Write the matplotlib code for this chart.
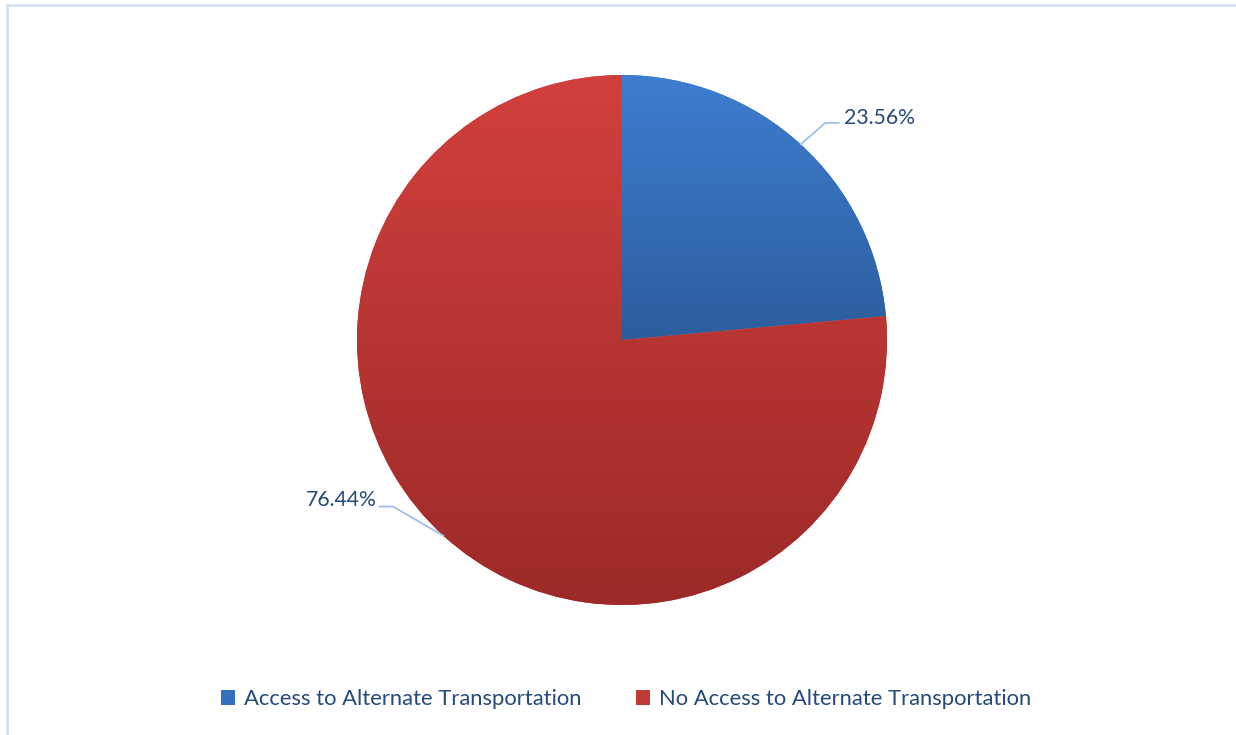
import numpy as np
import matplotlib
matplotlib.use("Agg")
import matplotlib.pyplot as plt
from matplotlib.colors import LinearSegmentedColormap
from matplotlib.patches import Patch
from matplotlib.lines import Line2D

categories = ["Access to Alternate Transportation", "No Access to Alternate Transportation"]
values = [23.56, 76.44]
labels = ["23.56%", "76.44%"]

top_colors = ["#3D7ED1", "#D2403D"]
bottom_colors = ["#2D5D9C", "#9C2A28"]
legend_colors = ["#3570C0", "#C03A36"]
text_color = "#254A7C"
line_color = "#9DC0EA"

plt.rcParams['font.family'] = ['Lato', 'DejaVu Sans']

W, H = 1236, 735
fig = plt.figure(figsize=(W / 100, H / 100), dpi=100)

cx, cy, r = 622, 340, 265
ax = fig.add_axes([(cx - r) / W, (H - cy - r) / H, 2 * r / W, 2 * r / H])
ax.set_xlim(-1, 1)
ax.set_ylim(-1, 1)
ax.set_aspect('equal')
ax.axis('off')

wedges, _ = ax.pie(values, startangle=90, counterclock=False, radius=1,
                   colors=top_colors, wedgeprops=dict(linewidth=0))

# gradient fill clipped to each wedge
for w, ctop, cbot in zip(wedges, top_colors, bottom_colors):
    bb = w.get_path().get_extents()
    cmap = LinearSegmentedColormap.from_list("g", [cbot, ctop])
    grad = np.linspace(0, 1, 256).reshape(-1, 1)
    im = ax.imshow(grad, cmap=cmap, origin='lower', aspect='auto',
                   extent=[bb.x0, bb.x1, bb.y0, bb.y1], zorder=w.get_zorder() + 0.1)
    im.set_clip_path(w)
ax.set_xlim(-1, 1)
ax.set_ylim(-1, 1)

# labels with leader lines
for w, lab in zip(wedges, labels):
    ang = np.deg2rad((w.theta1 + w.theta2) / 2)
    x0, y0 = np.cos(ang), np.sin(ang)
    if x0 > 0:
        xe, ye = x0 + 0.093, y0 + 0.081
        xend = xe + 0.05
        ax.add_line(Line2D([x0, xe, xend], [y0, ye, ye], color=line_color, lw=1.3, zorder=5, clip_on=False))
        ax.text(xend + 0.02, ye + 0.02, lab, ha='left', va='center', fontsize=15.3, color=text_color, clip_on=False)
    else:
        xe, ye = x0 - 0.19, y0 + 0.11
        xend = xe - 0.05
        ax.add_line(Line2D([x0, xe, xend], [y0, ye, ye], color=line_color, lw=1.3, zorder=5, clip_on=False))
        ax.text(xend - 0.012, ye + 0.025, lab, ha='right', va='center', fontsize=15.3, color=text_color, clip_on=False)

# legend
handles = [Patch(facecolor=c, edgecolor='none') for c in legend_colors]
leg = fig.legend(handles, categories, loc='center', bbox_to_anchor=(626 / W, 1 - 699 / H),
                 ncol=2, frameon=False, fontsize=15.8, handlelength=0.65, handleheight=0.65,
                 handletextpad=0.4, columnspacing=2.5, labelcolor=text_color)

# chart frame (left and top edges)
fig.add_artist(Line2D([6.5 / W, 6.5 / W], [0, 1 - 4.5 / H], transform=fig.transFigure, color="#D5E2F2", lw=2))
fig.add_artist(Line2D([6.5 / W, 1], [1 - 4.5 / H, 1 - 4.5 / H], transform=fig.transFigure, color="#D5E2F2", lw=2))

fig.savefig("out.png", dpi=100, facecolor="white")
